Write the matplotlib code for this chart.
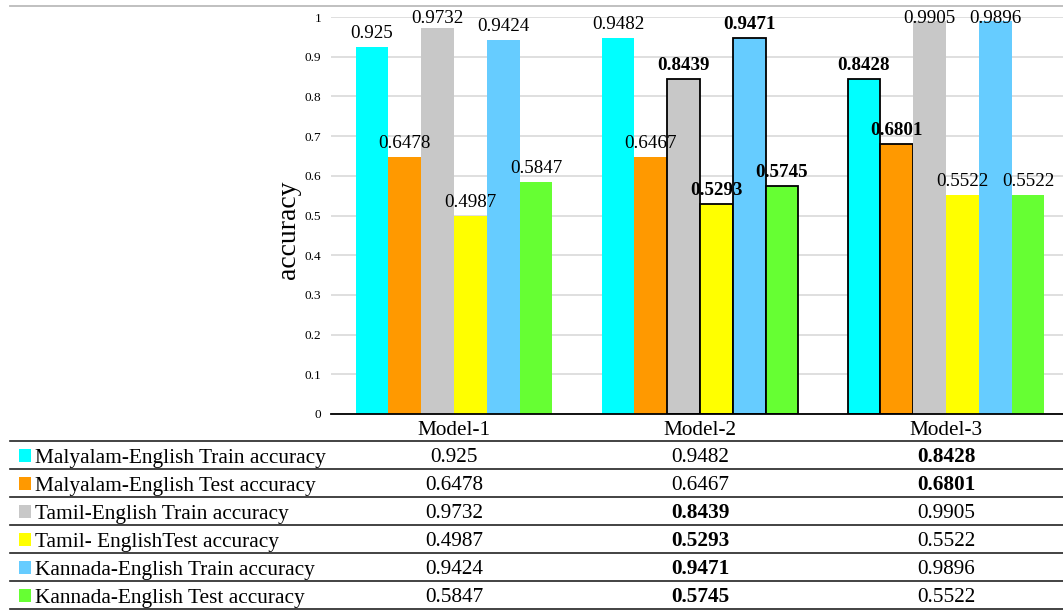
import matplotlib
matplotlib.use("Agg")
import matplotlib.pyplot as plt
from matplotlib.lines import Line2D
from matplotlib.patches import Rectangle
import numpy as np

models = ["Model-1", "Model-2", "Model-3"]
series_names = [
    "Malyalam-English Train accuracy",
    "Malyalam-English Test accuracy",
    "Tamil-English Train accuracy",
    "Tamil- EnglishTest accuracy",
    "Kannada-English Train accuracy",
    "Kannada-English Test accuracy",
]
mal_train = [0.925, 0.9482, 0.8428]
mal_test = [0.6478, 0.6467, 0.6801]
tam_train = [0.9732, 0.8439, 0.9905]
tam_test = [0.4987, 0.5293, 0.5522]
kan_train = [0.9424, 0.9471, 0.9896]
kan_test = [0.5847, 0.5745, 0.5522]
series_values = [mal_train, mal_test, tam_train, tam_test, kan_train, kan_test]
# highlighted (bold) cells: [series][model]
bold_flags = [
    [False, False, True],
    [False, False, True],
    [False, True, False],
    [False, True, False],
    [False, True, False],
    [False, True, False],
]
colors = ["#00FFFF", "#FF9900", "#C8C8C8", "#FFFF00", "#66CCFF", "#66FF33"]
yticks = [0, 0.1, 0.2, 0.3, 0.4, 0.5, 0.6, 0.7, 0.8, 0.9, 1]
ytick_labels = ["0", "0.1", "0.2", "0.3", "0.4", "0.5", "0.6", "0.7", "0.8", "0.9", "1"]

W, H = 1063, 615
fig = plt.figure(figsize=(W / 100, H / 100), dpi=100)
plt.rcParams["font.family"] = ["Liberation Serif", "DejaVu Serif"]

def fx(px):
    return px / W

def fy(py):
    return 1 - py / H

ax_left, ax_right, ax_top, ax_bottom = 331, 1063, 17, 414
ax = fig.add_axes([fx(ax_left), fy(ax_bottom), fx(ax_right - ax_left), (ax_bottom - ax_top) / H])

# category centers at 454, 700, 946 px -> spacing 246
x = np.arange(len(models))
ax.set_xlim((ax_left - 454) / 246, (ax_right - 454) / 246)
ax.set_ylim(0, 1)
px_per_unit = (ax_bottom - ax_top)  # pixels per 1.0 of y

n = len(series_values)
group_w = 0.8
bw = group_w / n
label_offset = 9 / px_per_unit
label_cap = (ax_bottom - 23) / px_per_unit  # baseline no higher than ~23px from top
for i, (vals, col) in enumerate(zip(series_values, colors)):
    xs = x - group_w / 2 + bw * (i + 0.5)
    for j, (xx, v) in enumerate(zip(xs, vals)):
        b = bold_flags[i][j]
        ax.bar(xx, v, width=bw, color=col,
               edgecolor="black" if b else col,
               linewidth=1.3 if b else 0, zorder=3)
        ly = min(v + label_offset, label_cap)
        ax.text(xx, ly, f"{v}", ha="center", va="baseline", fontsize=13.7,
                fontweight="bold" if b else "normal", zorder=5, clip_on=False)

ax.set_yticks(yticks)
ax.set_yticklabels(ytick_labels, fontsize=9.5)
ax.tick_params(axis="y", length=0, pad=7)
ax.set_xticks([])
ax.grid(axis="y", color="#D9D9D9", linewidth=1.2, zorder=0)
ax.set_axisbelow(True)
for s in ["top", "right", "left"]:
    ax.spines[s].set_visible(False)
ax.spines["bottom"].set_color("black")
ax.spines["bottom"].set_linewidth(1.3)
ax.spines["bottom"].set_zorder(6)

fig.text(fx(288), fy(230), "accuracy", rotation=90, ha="center", va="center", fontsize=20)

# top border line
fig.add_artist(Line2D([fx(10), fx(1063)], [fy(6), fy(6)], color="#BBBBBB", linewidth=1.3))

# table
col_centers = [454, 700, 946]
for m, cx in zip(models, col_centers):
    fig.text(fx(cx), fy(435), m, ha="center", va="baseline", fontsize=15.3)

row_lines = [441, 469, 497, 525, 553, 581, 609]
for yl in row_lines:
    fig.add_artist(Line2D([fx(10), fx(1063)], [fy(yl), fy(yl)], color="#222222", linewidth=1.2))

for i, (name, vals, col) in enumerate(zip(series_names, series_values, colors)):
    yc = (row_lines[i] + row_lines[i + 1]) / 2
    fig.add_artist(Rectangle((fx(18.5), fy(yc + 6.5)), fx(12.5), 12.5 / H, facecolor=col,
                             edgecolor="none", transform=fig.transFigure))
    fig.text(fx(35), fy(yc + 7.5), name, ha="left", va="baseline", fontsize=15.4)
    for j, (v, cx) in enumerate(zip(vals, col_centers)):
        fig.text(fx(cx), fy(yc + 7.5), f"{v}", ha="center", va="baseline", fontsize=15.3,
                 fontweight="bold" if bold_flags[i][j] else "normal")

fig.savefig("out.png", dpi=100)
